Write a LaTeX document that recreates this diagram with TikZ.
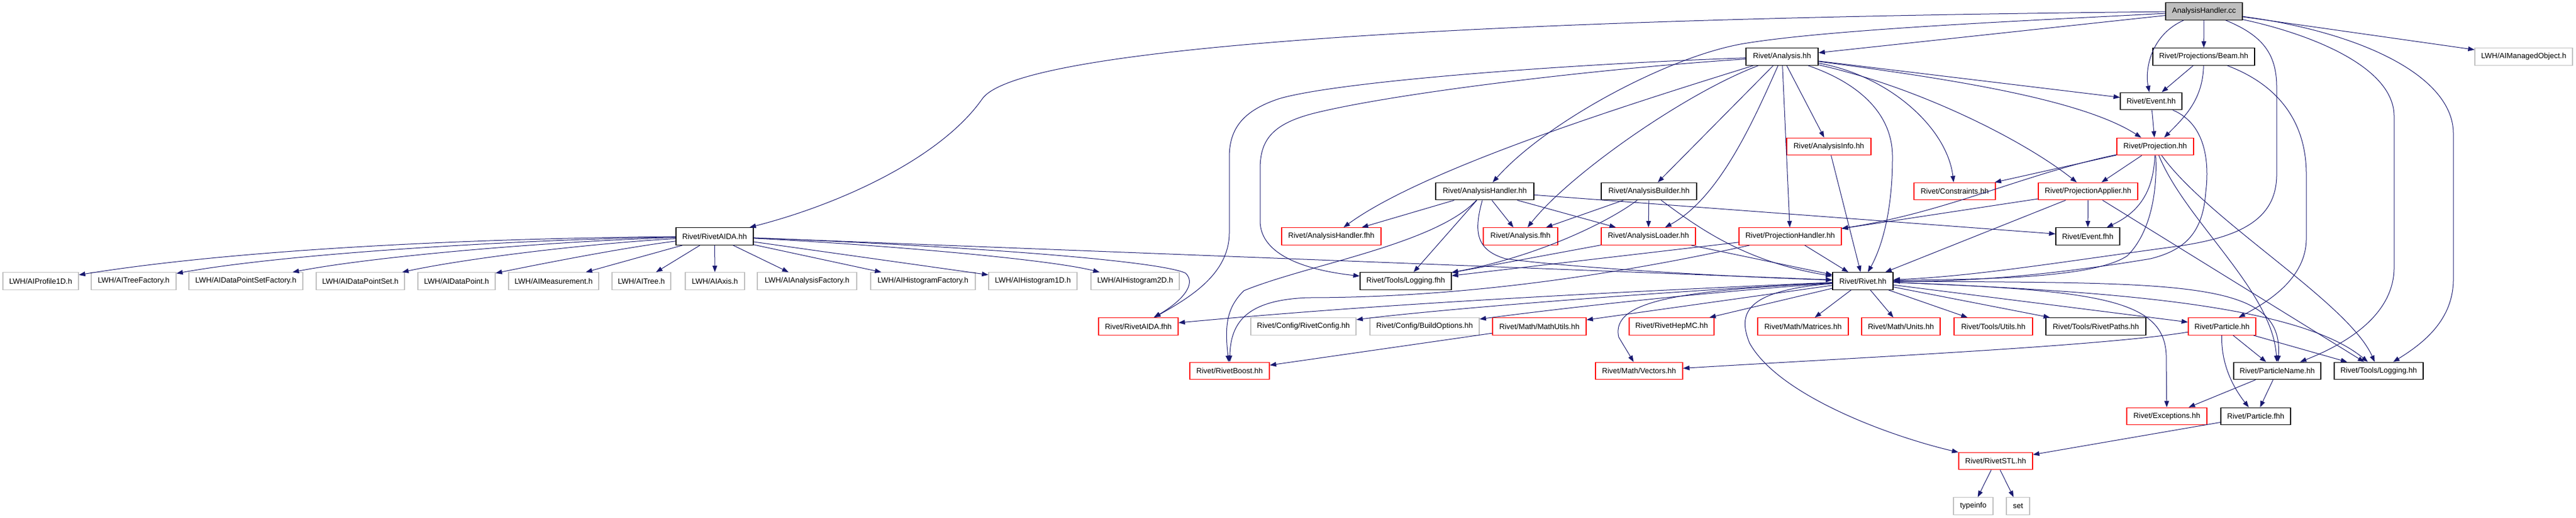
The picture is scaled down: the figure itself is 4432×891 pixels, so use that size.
\documentclass[tikz,border=0pt]{standalone}
\usepackage{fontspec}
\setmainfont{Liberation Sans}
\usepackage{tikz}
\usetikzlibrary{shapes,arrows.meta}
\definecolor{edgeblue}{HTML}{191970}
\definecolor{boxgrey}{HTML}{BFBFBF}

\begin{document}
\begin{tikzpicture}
		[
		x = 1pt, y = -1pt,
		filebox/.style = {rectangle, inner sep = 0pt, minimum height = 29.5pt, line width = 1.3pt, fill = white, font = \fontsize{13}{15}\selectfont},
		sourcefile/.style = {filebox, draw = black, fill = boxgrey},
		headerfile/.style = {filebox, draw = black},
		truncatedfile/.style = {filebox, draw = red},
		externalfile/.style = {filebox, draw = boxgrey},
		includes/.style = {draw = edgeblue, line width = 1pt, -{Triangle[length = 11pt, width = 8pt]}}
		]
		
		\useasboundingbox (0,0) rectangle (4432,891);
		
		\node[sourcefile, minimum width = 132pt] (cc) at (3792,19.5) {AnalysisHandler.cc};
		
		\node[headerfile, minimum width = 124pt] (analysis) at (3066,97.5) {Rivet/Analysis.hh};
		\node[headerfile, minimum width = 175pt] (beam) at (3791.5,97.5) {Rivet/Projections/Beam.hh};
		\node[externalfile, minimum width = 168pt] (managed) at (4342,97.5) {LWH/AIManagedObject.h};
		
		\node[headerfile, minimum width = 106pt] (event) at (3701,174) {Rivet/Event.hh};
		
		\node[truncatedfile, minimum width = 145pt] (info) at (3146.5,252) {Rivet/AnalysisInfo.hh};
		\node[truncatedfile, minimum width = 132pt] (projection) at (3708,252) {Rivet/Projection.hh};
		
		\node[headerfile, minimum width = 169pt] (handler) at (2554.5,329) {Rivet/AnalysisHandler.hh};
		\node[headerfile, minimum width = 164pt] (builder) at (2837,329) {Rivet/AnalysisBuilder.hh};
		\node[truncatedfile, minimum width = 140pt] (constraints) at (3363,329) {Rivet/Constraints.hh};
		\node[truncatedfile, minimum width = 171pt] (applier) at (3592.5,329) {Rivet/ProjectionApplier.hh};
		
		\node[headerfile, minimum width = 133pt] (aida) at (1229.5,406.5) {Rivet/RivetAIDA.hh};
		\node[truncatedfile, minimum width = 171pt] (handlerfwd) at (2290.5,406.5) {Rivet/AnalysisHandler.fhh};
		\node[truncatedfile, minimum width = 128pt] (analysisfwd) at (2616,406.5) {Rivet/Analysis.fhh};
		\node[truncatedfile, minimum width = 162pt] (loader) at (2836,406.5) {Rivet/AnalysisLoader.hh};
		\node[truncatedfile, minimum width = 176pt] (projhandler) at (3080,406.5) {Rivet/ProjectionHandler.hh};
		\node[headerfile, minimum width = 110pt] (eventfwd) at (3592,406.5) {Rivet/Event.fhh};
		
		\node[externalfile, minimum width = 130pt] (profile) at (70,483.5) {LWH/AIProfile1D.h};
		\node[externalfile, minimum width = 146pt] (treefactory) at (230,483.5) {LWH/AITreeFactory.h};
		\node[externalfile, minimum width = 196pt] (dpsfactory) at (423,483.5) {LWH/AIDataPointSetFactory.h};
		\node[externalfile, minimum width = 152pt] (dps) at (620,483.5) {LWH/AIDataPointSet.h};
		\node[externalfile, minimum width = 133pt] (datapoint) at (785.5,483.5) {LWH/AIDataPoint.h};
		\node[externalfile, minimum width = 155pt] (measurement) at (952.5,483.5) {LWH/AIMeasurement.h};
		\node[externalfile, minimum width = 101pt] (tree) at (1103.5,483.5) {LWH/AITree.h};
		\node[externalfile, minimum width = 102pt] (axis) at (1230,483.5) {LWH/AIAxis.h};
		\node[externalfile, minimum width = 171pt] (anafactory) at (1388.5,483.5) {LWH/AIAnalysisFactory.h};
		\node[externalfile, minimum width = 180pt] (histfactory) at (1588,483.5) {LWH/AIHistogramFactory.h};
		\node[externalfile, minimum width = 152pt] (histone) at (1777,483.5) {LWH/AIHistogram1D.h};
		\node[externalfile, minimum width = 152pt] (histtwo) at (1953,483.5) {LWH/AIHistogram2D.h};
		\node[headerfile, minimum width = 157pt] (logfwd) at (2418.5,483.5) {Rivet/Tools/Logging.fhh};
		\node[headerfile, minimum width = 104pt] (rivet) at (3205,483.5) {Rivet/Rivet.hh};
		
		\node[truncatedfile, minimum width = 137pt] (aidafwd) at (1958.5,561.5) {Rivet/RivetAIDA.fhh};
		\node[externalfile, minimum width = 181pt] (config) at (2242.5,561.5) {Rivet/Config/RivetConfig.hh};
		\node[externalfile, minimum width = 188pt] (buildopts) at (2451,561.5) {Rivet/Config/BuildOptions.hh};
		\node[truncatedfile, minimum width = 161pt] (mathutils) at (2648.5,561.5) {Rivet/Math/MathUtils.hh};
		\node[truncatedfile, minimum width = 146pt] (hepmc) at (2876,561.5) {Rivet/RivetHepMC.hh};
		\node[truncatedfile, minimum width = 156pt] (matrices) at (3102,561.5) {Rivet/Math/Matrices.hh};
		\node[truncatedfile, minimum width = 135pt] (units) at (3270.5,561.5) {Rivet/Math/Units.hh};
		\node[truncatedfile, minimum width = 135pt] (utils) at (3429.5,561.5) {Rivet/Tools/Utils.hh};
		\node[headerfile, minimum width = 172pt] (paths) at (3606,561.5) {Rivet/Tools/RivetPaths.hh};
		\node[truncatedfile, minimum width = 116pt] (particle) at (3823,561.5) {Rivet/Particle.hh};
		
		\node[truncatedfile, minimum width = 137pt] (boost) at (2115.5,638) {Rivet/RivetBoost.hh};
		\node[truncatedfile, minimum width = 150pt] (vectors) at (2820,638) {Rivet/Math/Vectors.hh};
		\node[headerfile, minimum width = 150pt] (particlename) at (3918,638) {Rivet/ParticleName.hh};
		\node[headerfile, minimum width = 153pt] (logging) at (4092.5,638) {Rivet/Tools/Logging.hh};
		
		\node[truncatedfile, minimum width = 138pt] (exceptions) at (3728,716) {Rivet/Exceptions.hh};
		\node[headerfile, minimum width = 120pt] (particlefwd) at (3881,716) {Rivet/Particle.fhh};
		
		\node[truncatedfile, minimum width = 127pt] (stl) at (3433.5,793) {Rivet/RivetSTL.hh};
		
		\node[externalfile, minimum width = 68pt] (typeinfo) at (3395,870.5) {typeinfo};
		\node[externalfile, minimum width = 40pt] (stlset) at (3472,870.5) {set};
		
		\draw[includes] (cc) .. controls (2700,30) and (1760,70) .. (1690,170) .. controls (1620,270) and (1450,350) .. (aida);
		\draw[includes] (cc) .. controls (3500,35) and (3150,50) .. (3000,75) .. controls (2870,97) and (2660,210) .. (handler);
		\draw[includes] (cc) -- (analysis);
		\draw[includes] (cc) .. controls (3700,60) and (3690,120) .. (event);
		\draw[includes] (cc) -- (beam);
		\draw[includes] (cc) -- (managed);
		\draw[includes] (cc) .. controls (3890,60) and (3917,90) .. (3917,150) -- (3917,300) .. controls (3917,380) and (3850,410) .. (3736,425) .. controls (3550,450) and (3400,475) .. (rivet);
		\draw[includes] (cc) .. controls (3960,55) and (4119,110) .. (4119,200) -- (4119,460) .. controls (4119,540) and (4040,590) .. (particlename);
		\draw[includes] (cc) .. controls (4060,55) and (4221,130) .. (4221,230) -- (4221,480) .. controls (4221,550) and (4170,590) .. (logging);
		
		\draw[includes] (analysis) .. controls (2700,110) and (2300,140) .. (2200,170) .. controls (2140,190) and (2115,220) .. (2115,270) -- (2115,400) .. controls (2115,470) and (2050,510) .. (aidafwd);
		\draw[includes] (analysis) .. controls (2750,118) and (2400,160) .. (2260,195) .. controls (2190,213) and (2168,240) .. (2168,290) -- (2168,380) .. controls (2168,440) and (2250,465) .. (logfwd);
		\draw[includes] (analysis) .. controls (2800,180) and (2450,290) .. (handlerfwd);
		\draw[includes] (analysis) .. controls (2900,160) and (2700,300) .. (analysisfwd);
		\draw[includes] (analysis) -- (builder);
		\draw[includes] (analysis) .. controls (3020,200) and (2960,340) .. (loader);
		\draw[includes] (analysis) -- (projhandler);
		\draw[includes] (analysis) -- (info);
		\draw[includes] (analysis) .. controls (3190,140) and (3256,190) .. (3256,270) .. controls (3256,370) and (3235,430) .. (rivet);
		\draw[includes] (analysis) .. controls (3250,130) and (3350,220) .. (constraints);
		\draw[includes] (analysis) .. controls (3300,150) and (3480,240) .. (applier);
		\draw[includes] (analysis) .. controls (3350,135) and (3580,170) .. (projection);
		\draw[includes] (analysis) -- (event);
		
		\draw[includes] (beam) -- (event);
		\draw[includes] (beam) .. controls (3790,170) and (3760,200) .. (projection);
		\draw[includes] (beam) .. controls (3930,150) and (3968,220) .. (3968,300) -- (3968,410) .. controls (3968,480) and (3900,520) .. (particle);
		
		\draw[includes] (event) -- (projection);
		\draw[includes] (event) .. controls (3800,215) and (3800,290) .. (3795,330) .. controls (3790,400) and (3760,430) .. (3700,445) .. controls (3550,470) and (3400,485) .. (rivet);
		
		\draw[includes] (info) -- (rivet);
		
		\draw[includes] (projection) -- (constraints);
		\draw[includes] (projection) .. controls (3480,300) and (3350,365) .. (projhandler);
		\draw[includes] (projection) -- (applier);
		\draw[includes] (projection) .. controls (3705,330) and (3680,365) .. (eventfwd);
		\draw[includes] (projection) .. controls (3712,330) and (3700,400) .. (3660,440) .. controls (3600,480) and (3400,480) .. (rivet);
		\draw[includes] (projection) .. controls (3760,380) and (3910,500) .. (particlename);
		\draw[includes] (projection) .. controls (3800,380) and (4040,520) .. (logging);
		
		\draw[includes] (applier) -- (projhandler);
		\draw[includes] (applier) -- (rivet);
		\draw[includes] (applier) -- (eventfwd);
		\draw[includes] (applier) -- (logging);
		
		\draw[includes] (handler) -- (handlerfwd);
		\draw[includes] (handler) .. controls (2470,420) and (2250,455) .. (2140,500) .. controls (2110,530) and (2107,560) .. (boost);
		\draw[includes] (handler) -- (logfwd);
		\draw[includes] (handler) .. controls (2535,400) and (2540,430) .. (2590,445) .. controls (2700,460) and (2950,475) .. (rivet);
		\draw[includes] (handler) -- (analysisfwd);
		\draw[includes] (handler) -- (loader);
		\draw[includes] (handler) -- (eventfwd);
		
		\draw[includes] (builder) -- (analysisfwd);
		\draw[includes] (builder) .. controls (2770,380) and (2650,440) .. (logfwd);
		\draw[includes] (builder) -- (loader);
		\draw[includes] (builder) .. controls (2920,390) and (3000,450) .. (rivet);
		
		\draw[includes] (loader) -- (logfwd);
		\draw[includes] (loader) -- (rivet);
		
		\draw[includes] (projhandler) -- (logfwd);
		\draw[includes] (projhandler) .. controls (2700,490) and (2450,512) .. (2250,512) .. controls (2150,516) and (2117,550) .. (boost);
		\draw[includes] (projhandler) -- (rivet);
		
		\draw[includes] (aida) .. controls (800,410) and (400,430) .. (profile);
		\draw[includes] (aida) .. controls (900,412) and (500,435) .. (treefactory);
		\draw[includes] (aida) .. controls (950,415) and (650,440) .. (dpsfactory);
		\draw[includes] (aida) .. controls (1000,420) and (800,445) .. (dps);
		\draw[includes] (aida) .. controls (1080,425) and (950,450) .. (datapoint);
		\draw[includes] (aida) -- (measurement);
		\draw[includes] (aida) -- (tree);
		\draw[includes] (aida) -- (axis);
		\draw[includes] (aida) -- (anafactory);
		\draw[includes] (aida) -- (histfactory);
		\draw[includes] (aida) -- (histone);
		\draw[includes] (aida) .. controls (1500,420) and (1800,445) .. (histtwo);
		\draw[includes] (aida) .. controls (1700,425) and (2000,450) .. (2040,470) .. controls (2060,490) and (2030,520) .. (aidafwd);
		\draw[includes] (aida) -- (rivet);
		
		\draw[includes] (rivet) .. controls (2600,510) and (2300,530) .. (aidafwd);
		\draw[includes] (rivet) .. controls (2800,505) and (2450,535) .. (config);
		\draw[includes] (rivet) .. controls (2900,505) and (2650,535) .. (buildopts);
		\draw[includes] (rivet) -- (mathutils);
		\draw[includes] (rivet) -- (hepmc);
		\draw[includes] (rivet) -- (matrices);
		\draw[includes] (rivet) -- (units);
		\draw[includes] (rivet) -- (utils);
		\draw[includes] (rivet) -- (paths);
		\draw[includes] (rivet) -- (particle);
		\draw[includes] (rivet) .. controls (3600,500) and (3950,520) .. (logging);
		\draw[includes] (rivet) .. controls (3750,487) and (3930,480) .. (particlename);
		\draw[includes] (rivet) .. controls (3620,500) and (3730,515) .. (3727,620) -- (exceptions);
		\draw[includes] (rivet) .. controls (2900,500) and (2770,515) .. (2785,580) -- (vectors);
		\draw[includes] (rivet) .. controls (3000,500) and (2990,540) .. (3010,590) .. controls (3060,680) and (3250,750) .. (stl);
		
		\draw[includes] (mathutils) -- (boost);
		
		\draw[includes] (particle) -- (particlename);
		\draw[includes] (particle) .. controls (3821,630) and (3845,670) .. (particlefwd);
		\draw[includes] (particle) -- (logging);
		\draw[includes] (particle) .. controls (3620,595) and (3200,615) .. (vectors);
		
		\draw[includes] (particlename) -- (exceptions);
		\draw[includes] (particlename) -- (particlefwd);
		
		\draw[includes] (particlefwd) -- (stl);
		
		\draw[includes] (stl) -- (typeinfo);
		\draw[includes] (stl) -- (stlset);
		
		\end{tikzpicture}
\end{document}
